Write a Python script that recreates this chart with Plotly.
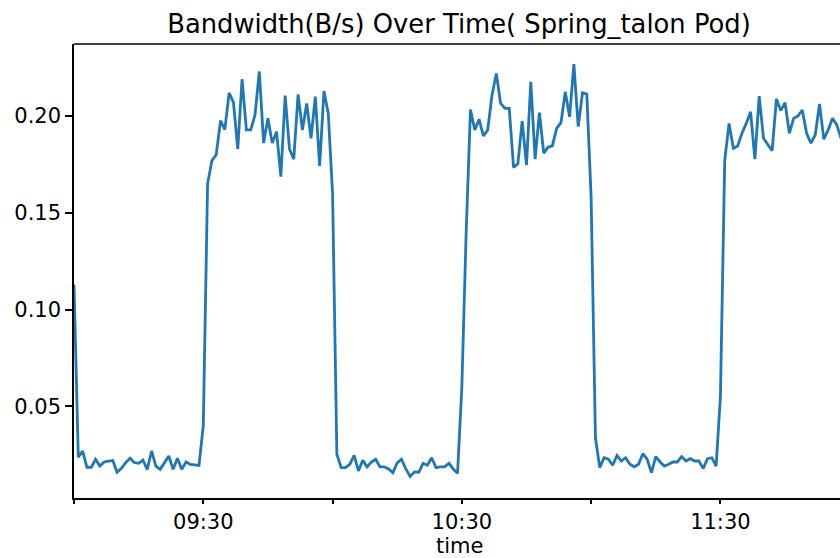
import pandas as pd
import plotly.graph_objects as go

# one sample per minute starting 09:00
start_time = "2024-01-01 09:00"
bandwidth = [
    # 09:00 - 09:29
    0.113, 0.0237, 0.027, 0.0185, 0.0185, 0.0227, 0.0192, 0.0213, 0.0218, 0.0221,
    0.016, 0.018, 0.021, 0.0232, 0.021, 0.0206, 0.0223, 0.0175, 0.027, 0.0192,
    0.0175, 0.021, 0.0244, 0.0175, 0.0232, 0.0175, 0.0213, 0.020, 0.0196, 0.0195,
    # 09:30 - 09:59
    0.040, 0.165, 0.177, 0.180, 0.1976, 0.193, 0.212, 0.207, 0.183, 0.219,
    0.1928, 0.1928, 0.2005, 0.223, 0.186, 0.1988, 0.186, 0.1919, 0.1687, 0.2105,
    0.183, 0.1777, 0.2112, 0.1928, 0.2065, 0.1885, 0.210, 0.1742, 0.2129, 0.2014,
    # 10:00 - 10:29
    0.160, 0.0253, 0.0184, 0.0184, 0.0201, 0.0247, 0.0167, 0.0222, 0.0188, 0.0213,
    0.0227, 0.0188, 0.0188, 0.0177, 0.0158, 0.0208, 0.0227, 0.0177, 0.0138, 0.0162,
    0.016, 0.0206, 0.0196, 0.0235, 0.0184, 0.0188, 0.0188, 0.0206, 0.0177, 0.0155,
    # 10:30 - 10:59
    0.060, 0.140, 0.2034, 0.1928, 0.1983, 0.1897, 0.1928, 0.2108, 0.222, 0.2065,
    0.204, 0.204, 0.1735, 0.1753, 0.1974, 0.1747, 0.2177, 0.1777, 0.2017, 0.1808,
    0.1839, 0.1846, 0.1936, 0.1966, 0.2125, 0.1996, 0.2268, 0.1945, 0.212, 0.2113,
    # 11:00 - 11:29
    0.158, 0.0338, 0.0184, 0.0235, 0.0227, 0.0196, 0.0247, 0.0218, 0.0235, 0.0201,
    0.0188, 0.0201, 0.0256, 0.0227, 0.0158, 0.0241, 0.0213, 0.0192, 0.0201, 0.0213,
    0.0213, 0.0241, 0.0218, 0.023, 0.0218, 0.0218, 0.0179, 0.023, 0.0235, 0.0192,
    # 11:30 - 11:58
    0.055, 0.177, 0.1962, 0.1833, 0.1845, 0.1911, 0.1962, 0.2022, 0.1777, 0.2103,
    0.1885, 0.185, 0.1821, 0.2088, 0.2028, 0.2069, 0.1911, 0.1988, 0.200, 0.2031,
    0.1911, 0.186, 0.1902, 0.2062, 0.188, 0.1928, 0.1988, 0.1954, 0.1885,
]
times = pd.date_range(start_time, periods=len(bandwidth), freq="1min")

major_ticks = ["2024-01-01 09:30", "2024-01-01 10:30", "2024-01-01 11:30"]
major_labels = ["09:30", "10:30", "11:30"]
minor_ticks = ["2024-01-01 09:00", "2024-01-01 10:00", "2024-01-01 11:00"]
y_ticks = [0.05, 0.10, 0.15, 0.20]

fig = go.Figure()
fig.add_trace(go.Scatter(x=times, y=bandwidth, mode="lines",
                         line=dict(color="#1f77b4", width=2.8), showlegend=False))

font = "DejaVu Sans, Liberation Sans, sans-serif"
fig.update_layout(
    width=840, height=558,
    margin=dict(l=74, r=0, t=44, b=60),
    paper_bgcolor="white", plot_bgcolor="white",
    font=dict(family=font, size=21, color="black"),
    title=dict(text="Bandwidth(B/s) Over Time( Spring_talon Pod)",
               x=459 / 840, xref="container", xanchor="center",
               y=(558 - 24) / 558, yref="container", yanchor="middle",
               font=dict(family=font, size=25.8, color="black")),
    xaxis=dict(
        range=["2024-01-01 09:00", "2024-01-01 11:57:45"],
        tickmode="array", tickvals=major_ticks, ticktext=major_labels,
        ticks="outside", ticklen=4.5, tickwidth=1.5, tickcolor="black",
        minor=dict(tickmode="array", tickvals=minor_ticks, ticks="outside",
                   ticklen=4.5, tickwidth=1.5, tickcolor="black", showgrid=False),
        showline=True, linecolor="black", linewidth=1.5,
        showgrid=False, zeroline=False,
        tickfont=dict(size=21, color="black"),
    ),
    yaxis=dict(
        range=[0.0027, 0.2372],
        tickmode="array", tickvals=y_ticks, tickformat=".2f",
        ticks="outside", ticklen=7, tickwidth=1.5, tickcolor="black",
        showline=True, linecolor="black", linewidth=1.5,
        showgrid=False, zeroline=False,
        tickfont=dict(size=21, color="black"),
    ),
)
# top spine
fig.add_shape(type="line", xref="paper", yref="paper", x0=0, x1=1, y0=1, y1=1,
              line=dict(color="black", width=1.5))
# x-axis label
fig.add_annotation(text="time", xref="paper", yref="paper",
                   x=(459 - 74) / 766, y=(498 - 546) / 454,
                   xanchor="center", yanchor="middle", showarrow=False,
                   font=dict(family=font, size=21, color="black"))

fig.write_html(
    "out.html",
    config={"displayModeBar": False},
    post_script="document.body.style.margin='0';document.body.style.overflow='hidden';",
)
